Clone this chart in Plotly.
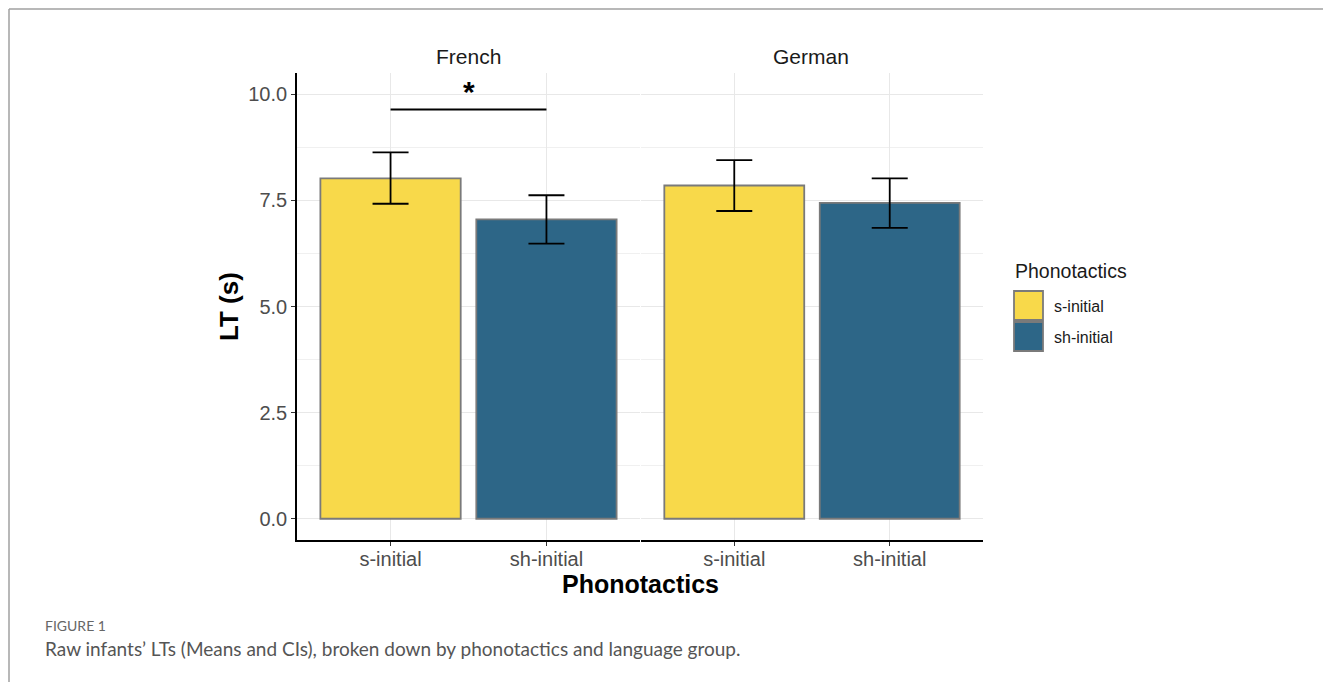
import plotly.graph_objects as go

# ---- data ----
groups = ["French", "German"]
categories = ["s-initial", "sh-initial"]
means_french = [8.02, 7.05]
means_german = [7.85, 7.44]
ci_upper_french = [8.63, 7.62]
ci_upper_german = [8.45, 8.02]
ci_lower_french = [7.42, 6.48]
ci_lower_german = [7.25, 6.85]
y_ticks = [0.0, 2.5, 5.0, 7.5, 10.0]
y_tick_labels = ["0.0", "2.5", "5.0", "7.5", "10.0"]
sig_pair = ["s-initial", "sh-initial"]
sig_y = 9.64
sig_label = "*"

colors = ["#F8D94A", "#2D6687"]
W, H = 1331, 682
OFF = 8  # page body margin
FONT = "Liberation Sans, Arial, sans-serif"
CAPFONT = "Lato, Open Sans, sans-serif"


def px_x(p):
    return (p - OFF) / W


def px_y(p):
    return 1 - (p - OFF) / H


fig = go.Figure()

data = [
    (means_french, ci_upper_french, ci_lower_french, "x", "y"),
    (means_german, ci_upper_german, ci_lower_german, "x2", "y2"),
]
for means, up, lo, xa, ya in data:
    fig.add_trace(go.Bar(
        x=categories, y=means, xaxis=xa, yaxis=ya, width=0.9,
        marker=dict(color=colors, line=dict(color="#7A7A7A", width=1.8)),
        error_y=dict(type="data", symmetric=False,
                     array=[u - m for u, m in zip(up, means)],
                     arrayminus=[m - l for m, l in zip(means, lo)],
                     color="black", thickness=1.8, width=18),
        showlegend=False, hoverinfo="skip",
    ))

yax = dict(range=[-0.5, 10.5], tickvals=y_ticks, ticktext=y_tick_labels,
           showgrid=True, gridcolor="#E8E8E8", gridwidth=1.3,
           minor=dict(dtick=1.25, tick0=1.25, showgrid=True, gridcolor="#F0F0F0", gridwidth=1),
           zeroline=False, ticks="outside", ticklen=4, tickcolor="#333333",
           tickfont=dict(family=FONT, size=20, color="#4D4D4D"),
           domain=[px_y(540), px_y(73)])
xax = dict(type="category", range=[-0.6, 1.6], showgrid=True, gridcolor="#E8E8E8",
           gridwidth=1.3, zeroline=False, ticks="outside", ticklen=4, tickcolor="#333333",
           tickfont=dict(family=FONT, size=20, color="#4D4D4D"), ticklabelstandoff=-4,
           showline=True, linecolor="black", linewidth=1.6)

fig.update_layout(
    width=W, height=H, margin=dict(l=0, r=0, t=0, b=0),
    paper_bgcolor="white", plot_bgcolor="white",
    xaxis=dict(xax, domain=[px_x(297), px_x(640)], anchor="y"),
    xaxis2=dict(xax, domain=[px_x(641), px_x(983)], anchor="y2"),
    yaxis=dict(yax, anchor="x", showline=True, linecolor="black", linewidth=1.6),
    yaxis2=dict(yax, anchor="x2", showticklabels=False, ticks="", matches="y"),
    bargap=0.1,
)

annotations = []
shapes = []


def ann(text, x, y, size, color="#1A1A1A", family=FONT, xanchor="center", **kw):
    annotations.append(dict(text=text, x=px_x(x), y=px_y(y), xref="paper", yref="paper",
                            xanchor=xanchor, yanchor="middle", showarrow=False,
                            font=dict(family=family, size=size, color=color), **kw))


# facet labels
ann(groups[0], 468, 56, 21)
ann(groups[1], 811, 56, 21)
# axis titles
ann("<b>LT (s)</b>", 229, 307, 26, color="black", textangle=-90)
ann("<b>Phonotactics</b>", 640, 584, 25, color="black")
# significance bracket
shapes.append(dict(type="line", xref="x", yref="y", x0=sig_pair[0], x1=sig_pair[1],
                   y0=sig_y, y1=sig_y, line=dict(color="black", width=1.8)))
annotations.append(dict(text="<b>" + sig_label + "</b>", x=0.5, y=sig_y, xref="x", yref="y",
                        xanchor="center", yanchor="bottom", yshift=0, showarrow=False,
                        font=dict(family=FONT, size=30, color="black")))
# legend (manual)
ann("Phonotactics", 1013, 271, 19.5, xanchor="left")
for i, (cat, col) in enumerate(zip(categories, colors)):
    top = 291 + i * 31
    shapes.append(dict(type="rect", xref="paper", yref="paper", x0=px_x(1014), x1=px_x(1043),
                       y0=px_y(top + 29), y1=px_y(top), fillcolor=col,
                       line=dict(color="#7A7A7A", width=1.8)))
    ann(cat, 1052, top + 15, 16, xanchor="left")
# page frame
shapes.append(dict(type="line", xref="paper", yref="paper", x0=px_x(9), x1=1, y0=px_y(9), y1=px_y(9),
                   line=dict(color="#A0A0A0", width=1.5)))
shapes.append(dict(type="line", xref="paper", yref="paper", x0=px_x(9), x1=px_x(9), y0=0, y1=px_y(9),
                   line=dict(color="#A0A0A0", width=1.5)))
# caption
ann("FIGURE 1", 43, 625, 14, color="#666666", family=CAPFONT, xanchor="left")
ann("Raw infants\u2019 LTs (Means and CIs), broken down by phonotactics and language group.",
    43, 648, 19, color="#555555", family=CAPFONT, xanchor="left")

fig.update_layout(annotations=annotations, shapes=shapes)
fig.write_html("out.html")
